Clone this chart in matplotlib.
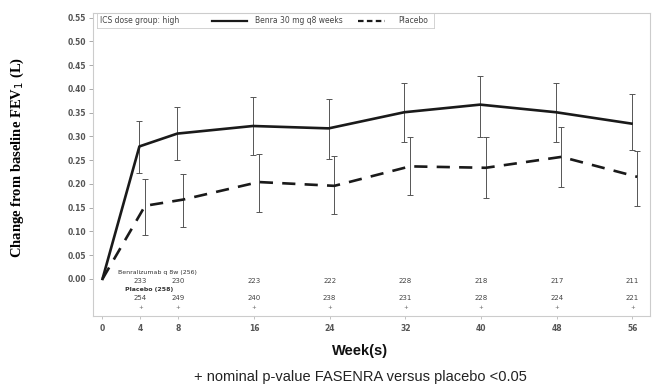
import numpy as np
import matplotlib
matplotlib.use("Agg")
import matplotlib.pyplot as plt

# values
weeks = [0, 4, 8, 16, 24, 32, 40, 48, 56]
benra = [0.0, 0.279, 0.306, 0.322, 0.317, 0.351, 0.367, 0.351, 0.327]
benra_lo = [0.0, 0.222, 0.250, 0.260, 0.253, 0.288, 0.299, 0.288, 0.271]
benra_hi = [0.0, 0.332, 0.361, 0.384, 0.378, 0.412, 0.428, 0.412, 0.390]
placebo = [0.0, 0.154, 0.167, 0.204, 0.196, 0.237, 0.234, 0.257, 0.215]
placebo_lo = [0.0, 0.092, 0.109, 0.141, 0.137, 0.176, 0.171, 0.193, 0.154]
placebo_hi = [0.0, 0.211, 0.220, 0.264, 0.259, 0.299, 0.299, 0.320, 0.269]

risk_weeks = [4, 8, 16, 24, 32, 40, 48, 56]
risk_benra = [233, 230, 223, 222, 228, 218, 217, 211]
risk_placebo = [254, 249, 240, 238, 231, 228, 224, 221]

yticks = [0.00, 0.05, 0.10, 0.15, 0.20, 0.25, 0.30, 0.35, 0.40, 0.45, 0.50, 0.55]

fig = plt.figure(figsize=(6.57, 3.89), dpi=100)
ax = fig.add_axes([0.1416, 0.1877, 0.847, 0.779])

w = np.array(weeks)
b = np.array(benra)
p = np.array(placebo)
ax.errorbar(w[1:] - 0.1, b[1:], yerr=[b[1:] - np.array(benra_lo[1:]), np.array(benra_hi[1:]) - b[1:]],
            fmt="none", ecolor="#555555", elinewidth=0.7, capsize=2.5, capthick=0.7)
ax.errorbar(w[1:] + 0.5, p[1:], yerr=[p[1:] - np.array(placebo_lo[1:]), np.array(placebo_hi[1:]) - p[1:]],
            fmt="none", ecolor="#555555", elinewidth=0.7, capsize=2.5, capthick=0.7)
ax.plot(np.r_[w[0], w[1:] - 0.1], b, color="#1a1a1a", lw=1.9)
ax.plot(np.r_[w[0], w[1:] + 0.5], p, color="#1a1a1a", lw=1.9, dashes=(5, 3.5))

# number at risk rows
ax.text(1.6, 0.014, "Benralizumab q 8w (256)", fontsize=4.5, color="#333333", ha="left", va="center")
ax.text(2.4, -0.023, "Placebo (258)", fontsize=4.5, color="#333333", ha="left", va="center", fontweight="bold")
for wk, nb, npl in zip(risk_weeks, risk_benra, risk_placebo):
    ax.text(wk, -0.005, str(nb), fontsize=5, color="#444444", ha="center", va="center")
    ax.text(wk, -0.041, str(npl), fontsize=5, color="#444444", ha="center", va="center")
    ax.text(wk, -0.061, "+", fontsize=4, color="#666666", ha="center", va="center")

ax.set_xlim(-1, 57.8)
ax.set_ylim(-0.078, 0.56)
ax.set_yticks(yticks)
ax.set_yticklabels(["%.2f" % v for v in yticks], fontsize=5.5, color="#555555", fontweight="bold")
ax.set_xticks(weeks)
ax.set_xticklabels([str(v) for v in weeks], fontsize=5.5, color="#555555", fontweight="bold")
ax.tick_params(axis="y", length=3, width=0.5, color="#888888", pad=2)
ax.tick_params(axis="x", length=2, width=0.5, color="#aaaaaa", pad=4)
for s in ax.spines.values():
    s.set_color("#cccccc")
    s.set_linewidth(0.8)

# legend box at top
ly = 0.544
ax.text(-0.3, ly, "ICS dose group: high", fontsize=5.5, color="#444444", va="center", ha="left")
ax.plot([11.6, 15.3], [ly, ly], color="#1a1a1a", lw=1.6)
ax.text(16.1, ly, "Benra 30 mg q8 weeks", fontsize=5.5, color="#444444", va="center", ha="left")
ax.plot([27.0, 29.8], [ly, ly], color="#1a1a1a", lw=1.6, dashes=(2.5, 1.5))
ax.text(31.2, ly, "Placebo", fontsize=5.5, color="#444444", va="center", ha="left")
ax.plot([-0.6, 35.0, 35.0], [0.559, 0.559, 0.528], color="#cccccc", lw=0.6)
ax.plot([-0.6, 35.0], [0.528, 0.528], color="#cccccc", lw=0.6)
ax.plot([-0.6, -0.6], [0.528, 0.559], color="#cccccc", lw=0.6)

fig.text(0.026, 0.595, "Change from baseline FEV$_1$ (L)", rotation=90, fontsize=10.5,
         family="Liberation Serif", fontweight="bold", ha="center", va="center")
fig.text(0.548, 0.097, "Week(s)", fontsize=10.5, family="Liberation Sans", fontweight="bold",
         ha="center", va="center", color="#111111")
fig.text(0.548, 0.030, "+ nominal p-value FASENRA versus placebo <0.05", fontsize=10.5,
         family="Liberation Sans", ha="center", va="center", color="#222222")

fig.savefig("out.png", dpi=100)
plt.close(fig)
